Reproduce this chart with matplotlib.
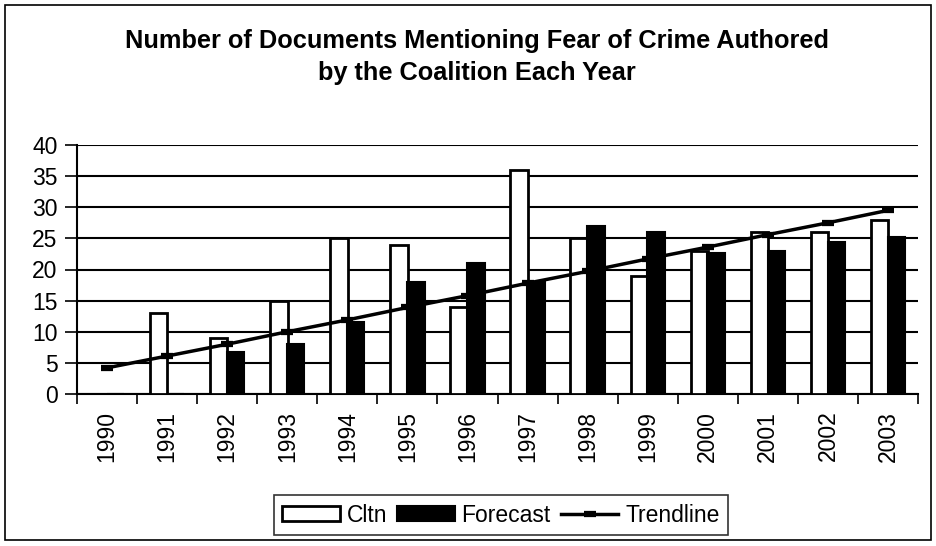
import matplotlib
matplotlib.use("Agg")
import matplotlib.pyplot as plt
import numpy as np
from matplotlib.patches import Rectangle
from matplotlib.lines import Line2D

plt.rcParams['font.family'] = ['Liberation Sans', 'DejaVu Sans']

years = ['1990', '1991', '1992', '1993', '1994', '1995', '1996',
         '1997', '1998', '1999', '2000', '2001', '2002', '2003']
cltn = [0, 13, 9, 15, 25, 24, 14, 36, 25, 19, 23, 26, 26, 28]
forecast = [0, 0, 6.8, 8, 11.5, 18, 21, 18, 27, 26, 22.6, 22.9, 24.4, 25.3]
trendline = [4.2, 6.1, 8.0, 10.0, 11.9, 13.9, 15.8, 17.8, 19.7, 21.7,
             23.6, 25.6, 27.5, 29.5]
yticks = [0, 5, 10, 15, 20, 25, 30, 35, 40]

W, H = 936, 546
fig = plt.figure(figsize=(W / 100, H / 100), dpi=100)
fig.patch.set_facecolor('white')

# outer chart border
fig.add_artist(Rectangle((5 / W, 6 / H), 926 / W, 535 / H, transform=fig.transFigure,
                         fill=False, edgecolor='black', linewidth=1.2))

ax = fig.add_axes([77 / W, (H - 394) / H, 841 / W, 249 / H])
x = np.arange(len(years))
bw = 0.29
ax.bar(x - 0.14, cltn, width=bw, color='white', edgecolor='black', linewidth=2, zorder=3)
ax.bar(x + 0.14, forecast, width=bw, color='black', edgecolor='black', linewidth=1.5, zorder=3)
ax.plot(x, trendline, color='black', linewidth=2.5, marker='_', markersize=9,
        markeredgewidth=4.5, zorder=4)

ax.set_xlim(-0.5, len(years) - 0.5)
ax.set_ylim(0, 40)
ax.set_yticks(yticks)
ax.set_yticklabels([str(v) for v in yticks], fontsize=16.5)
ax.yaxis.grid(True, color='black', linewidth=1.5)
ax.set_axisbelow(True)

ax.set_xticks(x)
ax.set_xticklabels(years, rotation=90, fontsize=16.5)
ax.tick_params(axis='x', length=0, pad=12)
ax.set_xticks(np.arange(-0.5, len(years)), minor=True)
ax.tick_params(axis='x', which='minor', length=7, width=1.2, direction='out')
ax.tick_params(axis='y', length=9, width=1.2, direction='out', pad=5)

for side in ['left', 'bottom']:
    ax.spines[side].set_linewidth(1.5)
ax.spines['top'].set_visible(False)
ax.spines['right'].set_visible(False)

fig.text(477 / W, 1 - 41 / H, 'Number of Documents Mentioning Fear of Crime Authored',
         ha='center', va='center', fontsize=18.3, fontweight='bold')
fig.text(477 / W, 1 - 73 / H, 'by the Coalition Each Year',
         ha='center', va='center', fontsize=18.3, fontweight='bold')

handles = [
    Rectangle((0, 0), 1, 1, facecolor='white', edgecolor='black', linewidth=2),
    Rectangle((0, 0), 1, 1, facecolor='black', edgecolor='black', linewidth=1.5),
    Line2D([], [], color='black', linewidth=2.5, marker='_', markersize=9, markeredgewidth=4.5),
]
leg = fig.legend(handles, ['Cltn', 'Forecast', 'Trendline'], loc='center',
                 bbox_to_anchor=(501 / W, 1 - 515 / H), ncol=3, fontsize=16.5,
                 frameon=True, fancybox=False, edgecolor='black',
                 handlelength=2.5, handleheight=0.6, handletextpad=0.3,
                 columnspacing=0.45, borderpad=0.35)
leg.get_frame().set_linewidth(1.2)

fig.savefig('out.png', dpi=100, facecolor='white')
